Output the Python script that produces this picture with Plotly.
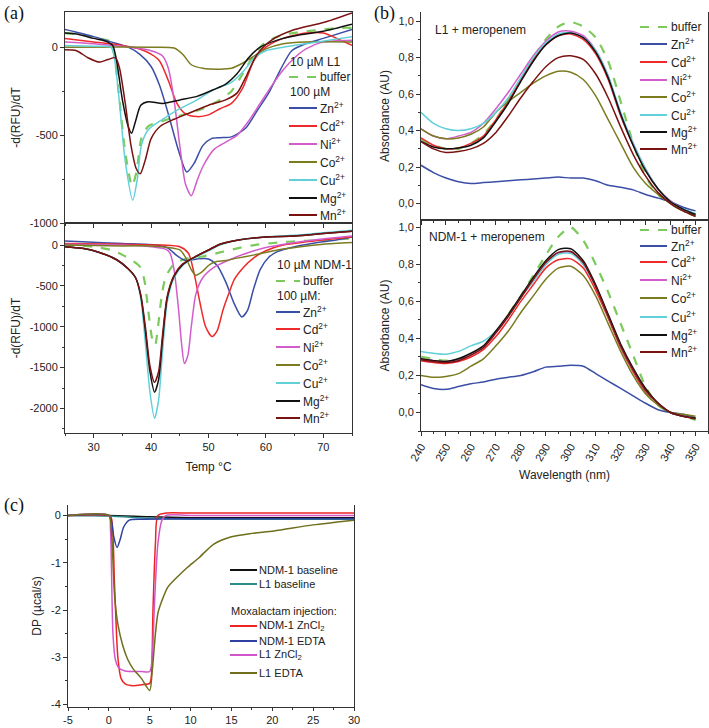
# Metal ion effects on L1 / NDM-1: thermal shift, UV spectra, ITC traces

import plotly.graph_objects as go

W, H = 709, 728

#----------------------------------------------------------
# (a) top: 10 uM L1, -d(RFU)/dT vs temperature
l1_buffer_t = [25, 28, 31, 33, 33.6, 34.5, 35.5, 36.7, 37.5, 38.3, 39.5, 42, 46, 49, 52, 54, 56, 58, 60, 63, 67, 70, 73, 75]
l1_buffer = [80, 70, 50, 30, -50, -300, -600, -790, -700, -520, -450, -420, -380, -350, -300, -250, -150, -40, 30, 70, 90, 100, 110, 110]
l1_zn_t = [25, 27, 30, 33, 36, 38, 40, 41.5, 43, 44.8, 46.2, 47.5, 49, 50.5, 52, 54, 56.5, 58.5, 60.5, 62.5, 64.5, 67, 70, 75]
l1_zn = [100, 85, 60, 30, 0, -40, -110, -220, -380, -590, -710, -660, -560, -520, -515, -510, -460, -360, -260, -130, -20, 20, 50, 100]
l1_cd_t = [25, 30, 35, 38, 40, 41.5, 43, 44.5, 46, 48, 50, 52, 54, 56, 58, 60, 63, 67, 70, 73, 75]
l1_cd = [50, 30, 10, -10, -40, -80, -190, -320, -380, -395, -385, -350, -320, -230, -70, 0, 50, 80, 80, 40, 10]
l1_ni_t = [25, 30, 35, 40, 42, 43, 44, 45, 46, 47, 48, 49, 51, 53, 55, 57, 59, 61, 63, 65, 67, 70, 75]
l1_ni = [30, 20, 5, -20, -50, -120, -300, -560, -780, -845, -760, -680, -580, -540, -500, -420, -320, -220, -130, -60, -10, 30, 40]
l1_co_t = [25, 40, 44, 45.5, 47, 49, 52, 54, 56, 58, 60, 63, 67, 75]
l1_co = [0, 0, -5, -40, -100, -120, -125, -120, -90, -50, -10, 20, 30, 30]
l1_cu_t = [25, 30, 33, 33.6, 34.5, 35.5, 36.8, 37.6, 38.3, 39.5, 42, 45, 48, 51, 54, 56, 58, 60, 63, 67, 71, 75]
l1_cu = [10, 5, 0, -60, -320, -650, -870, -750, -560, -470, -410, -350, -300, -240, -200, -140, -60, -20, 0, 20, 40, 60]
l1_mg_t = [25, 27, 30, 32, 33.3, 34, 35, 36, 36.6, 37.3, 38.2, 39.5, 42, 45, 48, 51, 53, 55, 57, 59, 62, 66, 70, 75]
l1_mg = [80, 75, 50, 35, 10, -80, -300, -450, -490, -420, -330, -310, -320, -300, -280, -240, -210, -150, -60, 0, 40, 70, 90, 130]
l1_mn_t = [25, 27, 29, 31, 32.5, 33.8, 34.5, 35.5, 36.5, 37.4, 38.1, 39, 40, 41.6, 44, 47, 50, 53, 55, 56.5, 58.5, 61, 65, 70, 75]
l1_mn = [-15, -20, -60, -85, -70, -60, -120, -320, -560, -690, -720, -640, -520, -450, -410, -370, -330, -300, -260, -170, -40, 40, 100, 140, 195]

# (a) bottom: 10 uM NDM-1
ndm_buffer_t = [25, 30, 33, 35, 36.5, 38, 38.8, 39.5, 40.2, 40.7, 41.2, 41.8, 42.5, 44, 46, 49, 52, 55, 58, 62, 66, 70, 75]
ndm_buffer = [0, -20, -60, -120, -180, -260, -420, -800, -1150, -1225, -1000, -650, -400, -230, -170, -140, -90, -40, 0, 30, 50, 60, 80]
ndm_zn_t = [25, 28, 35, 41, 43, 44.5, 46, 48, 50, 51.5, 53, 54.5, 55.8, 56.8, 57.8, 59, 60.5, 62, 65, 68, 72, 75]
ndm_zn = [50, 40, 20, 0, -40, -130, -190, -170, -170, -250, -450, -720, -880, -800, -550, -300, -150, -80, -20, 20, 60, 100]
ndm_cd_t = [25, 35, 42, 45, 46.5, 47.5, 48.5, 49.5, 50.6, 51.5, 52.5, 53.5, 54.5, 56, 58, 60, 63, 67, 71, 75]
ndm_cd = [20, 10, 0, -20, -100, -350, -700, -1000, -1120, -1050, -800, -600, -420, -280, -150, -70, 0, 40, 70, 100]
ndm_ni_t = [25, 35, 40, 42.5, 43.3, 44, 44.8, 45.3, 45.8, 46.4, 47, 47.8, 49, 51, 54, 57, 60, 64, 68, 72, 75]
ndm_ni = [10, 0, -20, -50, -100, -300, -800, -1200, -1450, -1350, -1000, -600, -400, -270, -170, -90, -30, 20, 60, 90, 110]
ndm_co_t = [25, 35, 40, 43, 45, 46, 47, 47.8, 49, 50, 51, 53, 55, 58, 62, 66, 70, 75]
ndm_co = [0, -10, -10, -30, -60, -150, -300, -370, -320, -250, -210, -190, -160, -120, -60, -20, 10, 30]
ndm_t = [25, 28, 31, 34, 36, 37.3, 38.2, 39, 39.8, 40.6, 41.3, 42, 42.8, 44, 45.5, 47.5, 50, 52, 55, 60, 65, 70, 75]
ndm_cu = [-20, -40, -90, -180, -290, -400, -650, -1200, -1800, -2120, -1900, -1300, -700, -400, -250, -160, -70, 0, 60, 100, 120, 150, 180]
ndm_mg = [-20, -40, -90, -180, -290, -400, -620, -1050, -1550, -1800, -1650, -1150, -650, -380, -240, -150, -60, 10, 60, 100, 110, 140, 170]
ndm_mn = [-20, -40, -90, -180, -290, -400, -610, -1000, -1480, -1680, -1550, -1100, -630, -370, -230, -150, -60, 10, 60, 100, 110, 140, 170]

#----------------------------------------------------------
# (b) absorbance spectra with meropenem
wl = [240, 245, 250, 255, 260, 265, 270, 275, 280, 285, 290, 295, 300, 305, 310, 315, 320, 325, 330, 335, 340, 345, 350]

l1_abs_buffer = [0.35, 0.32, 0.30, 0.30, 0.33, 0.38, 0.46, 0.57, 0.68, 0.80, 0.90, 0.97, 0.995, 0.97, 0.91, 0.78, 0.56, 0.33, 0.15, 0.05, 0.0, -0.04, -0.07]
l1_abs_zn = [0.21, 0.17, 0.14, 0.12, 0.11, 0.115, 0.12, 0.125, 0.13, 0.135, 0.14, 0.145, 0.14, 0.14, 0.125, 0.10, 0.09, 0.075, 0.05, 0.03, 0.01, -0.02, -0.04]
l1_abs_cd = [0.36, 0.32, 0.30, 0.305, 0.33, 0.37, 0.46, 0.56, 0.68, 0.79, 0.87, 0.92, 0.93, 0.90, 0.82, 0.68, 0.48, 0.32, 0.18, 0.08, 0.01, -0.03, -0.06]
l1_abs_ni = [0.41, 0.37, 0.355, 0.37, 0.39, 0.44, 0.52, 0.61, 0.71, 0.81, 0.89, 0.94, 0.945, 0.92, 0.84, 0.70, 0.49, 0.33, 0.19, 0.08, 0.015, -0.03, -0.06]
l1_abs_co = [0.41, 0.37, 0.355, 0.36, 0.38, 0.42, 0.50, 0.56, 0.61, 0.66, 0.70, 0.725, 0.72, 0.68, 0.59, 0.46, 0.33, 0.20, 0.11, 0.05, 0.0, -0.04, -0.07]
l1_abs_cu = [0.50, 0.44, 0.41, 0.40, 0.41, 0.44, 0.50, 0.58, 0.69, 0.80, 0.88, 0.93, 0.935, 0.91, 0.84, 0.70, 0.50, 0.33, 0.19, 0.08, 0.01, -0.03, -0.055]
l1_abs_mg = [0.34, 0.31, 0.30, 0.305, 0.32, 0.36, 0.45, 0.55, 0.67, 0.78, 0.87, 0.92, 0.935, 0.91, 0.83, 0.69, 0.49, 0.32, 0.18, 0.08, 0.01, -0.03, -0.06]
l1_abs_mn = [0.34, 0.30, 0.28, 0.285, 0.30, 0.33, 0.39, 0.48, 0.58, 0.67, 0.75, 0.80, 0.81, 0.79, 0.71, 0.58, 0.42, 0.27, 0.15, 0.06, 0.0, -0.04, -0.07]

ndm_abs_buffer = [0.30, 0.29, 0.28, 0.29, 0.31, 0.36, 0.43, 0.53, 0.63, 0.74, 0.85, 0.95, 1.0, 0.93, 0.80, 0.65, 0.48, 0.31, 0.14, 0.04, 0.0, -0.02, -0.04]
ndm_abs_zn = [0.15, 0.13, 0.125, 0.14, 0.155, 0.165, 0.18, 0.19, 0.20, 0.22, 0.245, 0.25, 0.255, 0.25, 0.21, 0.17, 0.13, 0.09, 0.05, 0.015, 0.0, -0.01, -0.03]
ndm_abs_cd = [0.28, 0.27, 0.265, 0.275, 0.30, 0.34, 0.41, 0.50, 0.60, 0.69, 0.78, 0.825, 0.83, 0.78, 0.66, 0.51, 0.35, 0.22, 0.11, 0.05, 0.0, -0.02, -0.03]
ndm_abs_ni = [0.29, 0.28, 0.275, 0.285, 0.31, 0.35, 0.43, 0.52, 0.62, 0.71, 0.80, 0.86, 0.865, 0.80, 0.68, 0.52, 0.36, 0.23, 0.12, 0.05, 0.0, -0.02, -0.03]
ndm_abs_co = [0.20, 0.19, 0.195, 0.21, 0.25, 0.29, 0.36, 0.44, 0.54, 0.63, 0.72, 0.78, 0.79, 0.74, 0.63, 0.48, 0.33, 0.20, 0.10, 0.04, 0.0, -0.01, -0.02]
ndm_abs_cu = [0.33, 0.32, 0.315, 0.33, 0.36, 0.385, 0.44, 0.52, 0.62, 0.71, 0.80, 0.855, 0.86, 0.80, 0.68, 0.52, 0.36, 0.23, 0.12, 0.05, 0.0, -0.02, -0.03]
ndm_abs_mg = [0.29, 0.28, 0.275, 0.29, 0.32, 0.36, 0.44, 0.53, 0.63, 0.73, 0.82, 0.88, 0.885, 0.82, 0.69, 0.53, 0.37, 0.24, 0.13, 0.05, 0.0, -0.02, -0.03]
ndm_abs_mn = [0.285, 0.275, 0.27, 0.28, 0.31, 0.35, 0.43, 0.52, 0.62, 0.72, 0.81, 0.865, 0.87, 0.81, 0.68, 0.52, 0.36, 0.23, 0.12, 0.05, 0.0, -0.02, -0.035]

#----------------------------------------------------------
# (c) ITC, DP vs time (min)
base_t = [-5, 0, 5, 10, 15, 20, 25, 30]
ndm_baseline = [0, 0, -0.03, -0.05, -0.05, -0.05, -0.05, -0.05]
l1_baseline = [0, -0.01, -0.06, -0.08, -0.08, -0.08, -0.08, -0.08]
ndm_zncl2_t = [-5, 0, 0.3, 0.7, 1.1, 1.5, 2, 3, 4, 5, 5.2, 5.4, 5.7, 6, 7, 10, 20, 30]
ndm_zncl2 = [0, 0, -0.05, -1.5, -3.0, -3.45, -3.56, -3.6, -3.58, -3.55, -3.4, -2.0, -0.6, 0.0, 0.05, 0.05, 0.05, 0.05]
ndm_edta_t = [-5, 0, 0.3, 0.6, 1.0, 1.4, 1.8, 2.5, 4, 10, 20, 30]
ndm_edta = [0, 0, -0.1, -0.45, -0.68, -0.5, -0.25, -0.1, -0.08, -0.07, -0.07, -0.07]
l1_zncl2_t = [-5, 0, 0.2, 0.5, 0.8, 1.2, 2, 3, 4, 5, 5.3, 5.6, 6, 6.5, 7, 10, 30]
l1_zncl2 = [0, 0, -0.3, -2.5, -3.05, -3.22, -3.29, -3.3, -3.3, -3.3, -3.0, -1.8, -0.6, -0.1, 0, 0, 0]
l1_edta_t = [-5, 0, 0.3, 0.7, 1.1, 1.7, 2.3, 3, 4, 5, 5.3, 5.7, 6, 6.5, 7.2, 8.5, 9.6, 11, 12.8, 15, 17.5, 20.2, 25, 30]
l1_edta = [0, 0, -0.3, -1.7, -2.3, -2.75, -3.04, -3.25, -3.45, -3.7, -3.3, -2.5, -2.07, -1.8, -1.52, -1.28, -1.1, -0.9, -0.61, -0.45, -0.38, -0.33, -0.2, -0.1]

#----------------------------------------------------------
# Labels, ticks, colours

metal_names = ["Zn<sup>2+</sup>", "Cd<sup>2+</sup>", "Ni<sup>2+</sup>", "Co<sup>2+</sup>",
               "Cu<sup>2+</sup>", "Mg<sup>2+</sup>", "Mn<sup>2+</sup>"]
metal_colors = ["#3b4ea6", "#ee2a2a", "#d35ccb", "#7b7b1f", "#62d0d8", "#111111", "#7a1212"]
buffer_color = "#7cc95c"

itc_names = ["NDM-1 baseline", "L1 baseline", "NDM-1 ZnCl<sub>2</sub>", "NDM-1 EDTA",
             "L1 ZnCl<sub>2</sub>", "L1 EDTA"]
itc_colors = ["#111111", "#2a8c8c", "#ee2424", "#2f40a2", "#d256ca", "#6e6e1c"]

a_top_ticks = [0, -500, -1000]
a_bot_ticks = [0, -500, -1000, -1500, -2000]
temp_ticks = [30, 40, 50, 60, 70]
wl_ticks = [240, 250, 260, 270, 280, 290, 300, 310, 320, 330, 340, 350]
c_xticks = [-5, 0, 5, 10, 15, 20, 25, 30]
c_yticks = [0, -1, -2, -3, -4]

#----------------------------------------------------------
# Helpers

def pxx(x):
    return x / W

def pxy(y):
    return 1 - y / H

def add_line(fig, xs, ys, color, axis, dash="solid", width=1.5):
    fig.add_trace(go.Scatter(
        x=xs, y=ys, mode="lines", xaxis="x" + axis, yaxis="y" + axis,
        line=dict(color=color, width=width, dash=dash, shape="spline", smoothing=0.7),
        showlegend=False, hoverinfo="skip"))

def draw_legend(fig, lx0, lx1, tx, rows, size=12):
    # rows: (text, color or None, dash, y pixel)
    for text, color, dash, y in rows:
        if color is None:
            fig.add_annotation(x=pxx(lx0), y=pxy(y), xref="paper", yref="paper", text=text,
                               showarrow=False, xanchor="left", yanchor="middle", borderpad=0,
                               font=dict(size=size, color="#222"))
            continue
        fig.add_shape(type="line", xref="paper", yref="paper", x0=pxx(lx0), x1=pxx(lx1),
                      y0=pxy(y), y1=pxy(y), line=dict(color=color, width=2, dash=dash))
        fig.add_annotation(x=pxx(tx), y=pxy(y), xref="paper", yref="paper", text=text,
                           showarrow=False, xanchor="left", yanchor="middle", borderpad=0,
                           font=dict(size=size, color="#222"))

def axis(domain, rng, **kw):
    d = dict(domain=domain, range=rng, showline=True, linecolor="#333", linewidth=1,
             ticks="outside", ticklen=4, tickcolor="#333", showgrid=False, zeroline=False,
             automargin=False, tickfont=dict(size=11, color="#222"))
    d.update(kw)
    return d

def minor(vals):
    return dict(tickmode="array", tickvals=vals, ticks="outside", ticklen=2, tickcolor="#333", showgrid=False)

#----------------------------------------------------------
# Build figure

fig = go.Figure()

# (a) top
add_line(fig, l1_buffer_t, l1_buffer, buffer_color, "", dash="dash", width=2.2)
l1_series = [(l1_zn_t, l1_zn), (l1_cd_t, l1_cd), (l1_ni_t, l1_ni), (l1_co_t, l1_co),
             (l1_cu_t, l1_cu), (l1_mg_t, l1_mg), (l1_mn_t, l1_mn)]
for (t, v), c in zip(l1_series, metal_colors):
    add_line(fig, t, v, c, "")

# (a) bottom
add_line(fig, ndm_buffer_t, ndm_buffer, buffer_color, "2", dash="dash", width=2.2)
ndm_series = [(ndm_zn_t, ndm_zn), (ndm_cd_t, ndm_cd), (ndm_ni_t, ndm_ni), (ndm_co_t, ndm_co),
              (ndm_t, ndm_cu), (ndm_t, ndm_mg), (ndm_t, ndm_mn)]
for (t, v), c in zip(ndm_series, metal_colors):
    add_line(fig, t, v, c, "2")

# (b) top and bottom
add_line(fig, wl, l1_abs_buffer, buffer_color, "3", dash="dash", width=2.2)
for v, c in zip([l1_abs_zn, l1_abs_cd, l1_abs_ni, l1_abs_co, l1_abs_cu, l1_abs_mg, l1_abs_mn], metal_colors):
    add_line(fig, wl, v, c, "3")
add_line(fig, wl, ndm_abs_buffer, buffer_color, "4", dash="dash", width=2.2)
for v, c in zip([ndm_abs_zn, ndm_abs_cd, ndm_abs_ni, ndm_abs_co, ndm_abs_cu, ndm_abs_mg, ndm_abs_mn], metal_colors):
    add_line(fig, wl, v, c, "4")

# (c)
itc_series = [(base_t, ndm_baseline), (base_t, l1_baseline), (ndm_zncl2_t, ndm_zncl2),
              (ndm_edta_t, ndm_edta), (l1_zncl2_t, l1_zncl2), (l1_edta_t, l1_edta)]
for (t, v), c in zip(itc_series, itc_colors):
    add_line(fig, t, v, c, "5")

#----------------------------------------------------------
# Axes

xa = [pxx(65), pxx(352)]
xb = [pxx(421), pxx(708)]
title_font = dict(size=12, color="#222")

fig.update_layout(
    xaxis=axis(xa, [25, 75], anchor="y", showticklabels=False, tickvals=temp_ticks,
               minor=minor([25, 35, 45, 55, 65, 75]), mirror=True),
    yaxis=axis([pxy(223), pxy(12)], [-1000, 200], anchor="x", tickvals=a_top_ticks,
               ticktext=[str(v) for v in a_top_ticks], mirror=True,
               minor=minor([-750, -250]),
               title=dict(text="-d(RFU)/dT", font=title_font, standoff=6)),
    xaxis2=axis(xa, [25, 75], anchor="y2", tickvals=temp_ticks, mirror=True,
                minor=minor([25, 35, 45, 55, 65, 75]),
                title=dict(text="Temp °C", font=title_font, standoff=10)),
    yaxis2=axis([pxy(433), pxy(223)], [-2300, 270], anchor="x2", tickvals=a_bot_ticks,
                ticktext=[str(v) for v in a_bot_ticks], mirror=True,
                minor=minor([-250, -750, -1250, -1750, -2250]),
                title=dict(text="-d(RFU)/dT", font=title_font, standoff=6)),
    xaxis3=axis(xb, [240, 355], anchor="y3", showticklabels=False, tickvals=wl_ticks,
                minor=minor([245, 255, 265, 275, 285, 295, 305, 315, 325, 335, 345, 355])),
    yaxis3=axis([pxy(220), pxy(12)], [-0.09, 1.05], anchor="x3", dtick=0.2, tick0=0,
                tickformat=".1f", mirror=True,
                minor=minor([0.1, 0.3, 0.5, 0.7, 0.9]),
                title=dict(text="Absorbance (AU)", font=title_font, standoff=6)),
    xaxis4=axis(xb, [240, 355], anchor="y4", tickvals=wl_ticks, tickangle=-60, mirror=True,
                minor=minor([245, 255, 265, 275, 285, 295, 305, 315, 325, 335, 345, 355]),
                title=dict(text="Wavelength (nm)", font=title_font, standoff=8)),
    yaxis4=axis([pxy(431), pxy(220)], [-0.1, 1.04], anchor="x4", dtick=0.2, tick0=0,
                tickformat=".1f", mirror=True,
                minor=minor([-0.1, 0.1, 0.3, 0.5, 0.7, 0.9]),
                title=dict(text="Absorbance (AU)", font=title_font, standoff=6)),
    xaxis5=axis([pxx(68), pxx(354)], [-5, 30], anchor="y5", tickvals=c_xticks,
                ticktext=[str(v) for v in c_xticks], ticklen=3,
                minor=minor([-2.5, 2.5, 7.5, 12.5, 17.5, 22.5, 27.5])),
    yaxis5=axis([pxy(707), pxy(505)], [-4.05, 0.22], anchor="x5", tickvals=c_yticks,
                ticktext=[str(v) for v in c_yticks], mirror=True,
                minor=minor([-0.5, -1.5, -2.5, -3.5]),
                title=dict(text="DP (µcal/s)", font=title_font, standoff=6)),
)

#----------------------------------------------------------
# Legends drawn by hand so the row spacing matches

draw_legend(fig, 289, 317, 319, [
    ("10 µM L1", None, None, 62),
    ("buffer", buffer_color, "dash", 77),
    ("100 µM", None, None, 92)] +
    [(n, c, "solid", y) for n, c, y in zip(metal_names, metal_colors, [108, 126, 144, 162, 180, 198, 215])])

draw_legend(fig, 276, 300, 302, [
    ("10 µM NDM-1", None, None, 265),
    ("buffer", buffer_color, "dash", 281),
    ("100 µM:", None, None, 296)] +
    [(n, c, "solid", y) for n, c, y in zip(metal_names, metal_colors, [312, 329, 347, 365, 383, 401, 418])])

draw_legend(fig, 640, 667, 670, [("buffer", buffer_color, "dash", 27)] +
    [(n, c, "solid", y) for n, c, y in zip(metal_names, metal_colors, [44, 62, 80, 97, 115, 132, 149])])

draw_legend(fig, 640, 667, 670, [("buffer", buffer_color, "dash", 230)] +
    [(n, c, "solid", y) for n, c, y in zip(metal_names, metal_colors, [246, 262, 280, 298, 317, 335, 352])])

draw_legend(fig, 230, 257, 258,
    [(n, c, "solid", y) for n, c, y in zip(itc_names[:2], itc_colors[:2], [570, 584])] +
    [("Moxalactam injection:", None, None, 611)] +
    [(n, c, "solid", y) for n, c, y in zip(itc_names[2:], itc_colors[2:], [626, 641, 655, 673])],
    size=11)

#----------------------------------------------------------
# Panel letters and inset labels

for text, x, y in [("(a)", 2, 13), ("(b)", 372, 13), ("(c)", 2, 505)]:
    fig.add_annotation(x=pxx(x), y=pxy(y), xref="paper", yref="paper", text=text, showarrow=False,
                       xanchor="left", yanchor="middle",
                       font=dict(family="Liberation Serif", size=18, color="#111"))

fig.add_annotation(x=pxx(433), y=pxy(30), xref="paper", yref="paper", text="L1 + meropenem",
                   showarrow=False, xanchor="left", yanchor="middle", font=dict(size=12, color="#222"))
fig.add_annotation(x=pxx(427), y=pxy(237), xref="paper", yref="paper", text="NDM-1 + meropenem",
                   showarrow=False, xanchor="left", yanchor="middle", font=dict(size=12, color="#222"))

fig.update_layout(
    width=W, height=H, autosize=False,
    margin=dict(l=0, r=0, t=0, b=0),
    paper_bgcolor="white", plot_bgcolor="white",
    separators=",.",
    showlegend=False,
    font=dict(family="Liberation Sans, Arial, sans-serif", size=11, color="#222"),
)

# the page body has a default 8px margin; drop it so the figure fills the window
fig.write_html("out.html", config={"displayModeBar": False},
               post_script="document.body.style.margin='0';")
